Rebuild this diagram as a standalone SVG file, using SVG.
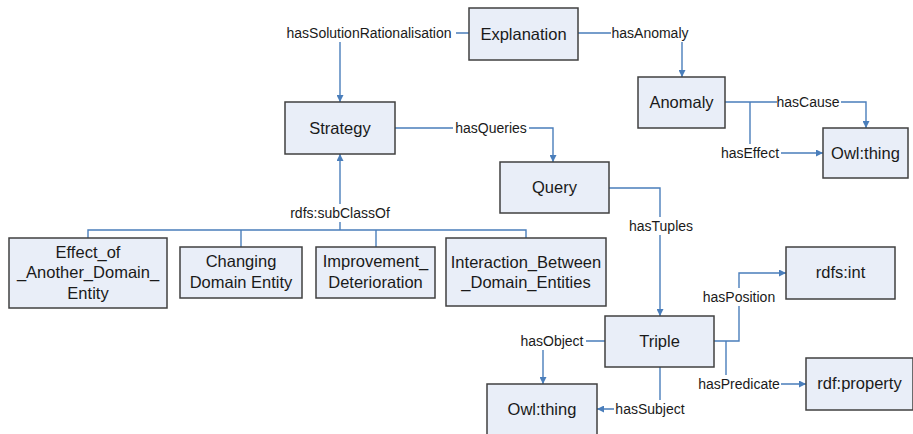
<svg xmlns="http://www.w3.org/2000/svg" width="913" height="434" viewBox="0 0 913 434">
<defs>
<marker id="arr" viewBox="0 0 10 10" refX="10" refY="5" markerWidth="7" markerHeight="7" markerUnits="userSpaceOnUse" orient="auto"><path d="M0,0 L10,5 L0,10 z" fill="#4A7EBB"/></marker>
<style>
.n rect{fill:#E9EEF8;stroke:#404040;stroke-width:1.5}
.n text{font-family:"Liberation Sans",Arial,sans-serif;font-size:16.5px;fill:#1a1a1a;text-anchor:middle}
.c path{fill:none;stroke:#4A7EBB;stroke-width:1.4}
.c .a{marker-end:url(#arr)}
.l rect{fill:#fff}
.l text{font-family:"Liberation Sans",Arial,sans-serif;font-size:14px;fill:#1a1a1a;text-anchor:middle}
</style>
</defs>
<rect width="913" height="434" fill="#fff"/>
<g class="c" id="connectors">
<path class="a" d="M469,33 H340 V102"/>
<path class="a" d="M578,33 H682 V77"/>
<path class="a" d="M395,128 H553 V162"/>
<path class="a" d="M725,102 H866 V128"/>
<path class="a" d="M750,102 V153 H823"/>
<path class="a" d="M340,230 V154"/>
<path d="M88,238 V230 H526 V238"/>
<path d="M241,247 V230"/>
<path d="M376,247 V230"/>
<path class="a" d="M609,188 H660 V316"/>
<path class="a" d="M605,341 H543 V384"/>
<path class="a" d="M660,367 V409 H597"/>
<path class="a" d="M714,341 H739 V273 H786"/>
<path class="a" d="M726,341 V384 H806"/>
</g>
<g class="l" id="labels">
<rect x="282" y="24" width="174" height="18"/><text x="369" y="38">hasSolutionRationalisation</text>
<rect x="611" y="24" width="80" height="18"/><text x="650" y="38">hasAnomaly</text>
<rect x="453" y="119" width="76" height="18"/><text x="491" y="133">hasQueries</text>
<rect x="777" y="93" width="64" height="18"/><text x="808" y="107">hasCause</text>
<rect x="719" y="144" width="62" height="18"/><text x="750" y="158">hasEffect</text>
<rect x="287" y="204" width="106" height="18"/><text x="340" y="218">rdfs:subClassOf</text>
<rect x="627" y="217" width="68" height="18"/><text x="661" y="231">hasTuples</text>
<rect x="518" y="332" width="68" height="18"/><text x="552" y="346">hasObject</text>
<rect x="614" y="400" width="72" height="18"/><text x="650" y="414">hasSubject</text>
<rect x="701" y="288" width="76" height="18"/><text x="739" y="302">hasPosition</text>
<rect x="697" y="375" width="84" height="18"/><text x="739" y="389">hasPredicate</text>
</g>
<g class="n" id="explanation"><rect x="469" y="8" width="109" height="52"/><text x="523.5" y="40">Explanation</text></g>
<g class="n" id="strategy"><rect x="285" y="102" width="110" height="52"/><text x="340" y="134">Strategy</text></g>
<g class="n" id="anomaly"><rect x="638" y="77" width="87" height="51"/><text x="681.5" y="108">Anomaly</text></g>
<g class="n" id="owlthing1"><rect x="823" y="128" width="85" height="50"/><text x="865.5" y="159">Owl:thing</text></g>
<g class="n" id="query"><rect x="500" y="162" width="109" height="51"/><text x="554.5" y="193">Query</text></g>
<g class="n" id="effect"><rect x="9" y="238" width="158" height="70"/><text x="88" y="258">Effect_of</text><text x="88" y="278">_Another_Domain_</text><text x="88" y="299">Entity</text></g>
<g class="n" id="changing"><rect x="180" y="247" width="122" height="51"/><text x="241" y="267">Changing</text><text x="241" y="288">Domain Entity</text></g>
<g class="n" id="improvement"><rect x="316" y="247" width="119" height="51"/><text x="375.5" y="267">Improvement_</text><text x="375.5" y="288">Deterioration</text></g>
<g class="n" id="interaction"><rect x="446" y="238" width="160" height="68"/><text x="526" y="268">Interaction_Between</text><text x="526" y="288">_Domain_Entities</text></g>
<g class="n" id="triple"><rect x="605" y="316" width="109" height="51"/><text x="659.5" y="347">Triple</text></g>
<g class="n" id="rdfsint"><rect x="786" y="247" width="109" height="52"/><text x="840.5" y="278">rdfs:int</text></g>
<g class="n" id="rdfproperty"><rect x="806" y="358" width="107" height="52"/><text x="859.5" y="389">rdf:property</text></g>
<g class="n" id="owlthing2"><rect x="487" y="384" width="110" height="56"/><text x="542" y="415">Owl:thing</text></g>
</svg>
